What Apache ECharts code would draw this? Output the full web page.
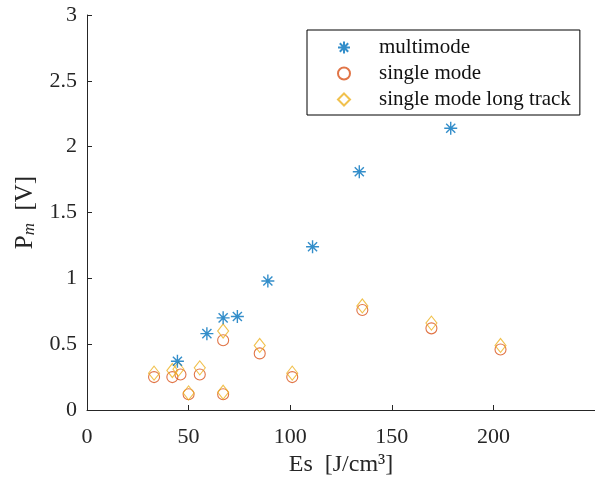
<!DOCTYPE html>
<html>
<head>
<meta charset="utf-8">
<script src="https://cdn.jsdelivr.net/npm/echarts@6/dist/echarts.min.js"></script>
<style>
html, body { margin: 0; padding: 0; background: #fff; }
#chart { width: 595px; height: 482px; }
</style>
</head>
<body>
<div id="chart"></div>
<script>
// values: [Es, Pm]
const multimode = [[44.5, 0.37], [59, 0.58], [67, 0.70], [74, 0.71], [89, 0.98], [111, 1.24], [134, 1.81], [179, 2.14]]
const singleMode = [[33, 0.25], [42, 0.25], [46, 0.27], [50, 0.12], [55.5, 0.27], [67, 0.12], [67, 0.53], [85, 0.43], [101, 0.25], [135.5, 0.76], [169.5, 0.62], [203.5, 0.46]]
const singleLong = [[33, 0.28], [42, 0.30], [45, 0.31], [50, 0.13], [55.5, 0.32], [67, 0.135], [67, 0.60], [85, 0.49], [101, 0.28], [135.5, 0.79], [169.5, 0.66], [203.5, 0.49]]
const seriesNames = ['multimode', 'single mode', 'single mode long track']

const serif = 'Liberation Serif'
const axisColor = '#262626'
const star = 'path://M0,-10L0,10M-10,0L10,0M-7,-7L7,7M-7,7L7,-7'

let chart = echarts.init(document.getElementById('chart'))
let option = {
    backgroundColor: '#fff',
    animation: false,
    textStyle: { fontFamily: serif },
    grid: { left: 87, top: 15, width: 512, height: 395 },
    legend: {
        orient: 'vertical',
        left: 307,
        top: 30,
        padding: [7, 9, 5, 30],
        itemGap: 5,
        itemWidth: 12,
        itemHeight: 12,
        borderColor: '#000',
        borderWidth: 1,
        textStyle: { fontFamily: serif, fontSize: 21, color: '#111', padding: [0, 0, 0, 24] },
        data: seriesNames
    },
    xAxis: {
        type: 'value',
        min: 0,
        max: 250,
        interval: 50,
        name: 'Es\u00a0\u00a0[J/cm³]',
        nameLocation: 'middle',
        nameGap: 41,
        nameTextStyle: { fontFamily: serif, fontSize: 24, color: axisColor },
        splitLine: { show: false },
        axisLine: { lineStyle: { color: axisColor, width: 1 } },
        axisTick: { inside: true, length: 5, lineStyle: { color: axisColor } },
        axisLabel: { showMaxLabel: false, fontFamily: serif, fontSize: 22, color: axisColor, margin: 16 }
    },
    yAxis: {
        type: 'value',
        min: 0,
        max: 3,
        interval: 0.5,
        name: '{p|P}{m|m}{p|\u00a0\u00a0[V]}',
        nameLocation: 'middle',
        nameGap: 49,
        nameTextStyle: {
            color: axisColor,
            rich: {
                p: { fontFamily: serif, fontSize: 25, color: axisColor },
                m: { fontFamily: serif, fontSize: 17, fontStyle: 'italic', color: axisColor, padding: [9, 0, 0, 0] }
            }
        },
        splitLine: { show: false },
        axisLine: { show: true, lineStyle: { color: axisColor, width: 1 } },
        axisTick: { show: true, inside: true, length: 5, lineStyle: { color: axisColor } },
        axisLabel: { fontFamily: serif, fontSize: 22, color: axisColor, margin: 10 }
    },
    series: [
        {
            name: seriesNames[0],
            type: 'scatter',
            symbol: star,
            symbolSize: 13,
            itemStyle: { color: 'transparent', borderColor: '#0072BD', borderWidth: 1.4 },
            data: multimode,
            z: 3
        },
        {
            name: seriesNames[1],
            type: 'scatter',
            symbol: 'circle',
            symbolSize: 11,
            itemStyle: { color: 'transparent', borderColor: '#D95319', borderWidth: 1.1 },
            data: singleMode,
            z: 2
        },
        {
            name: seriesNames[2],
            type: 'scatter',
            symbol: 'diamond',
            symbolSize: [11, 14],
            itemStyle: { color: 'transparent', borderColor: '#EDB120', borderWidth: 1.1 },
            data: singleLong,
            z: 2
        }
    ]
}
chart.setOption(option)
</script>
</body>
</html>
